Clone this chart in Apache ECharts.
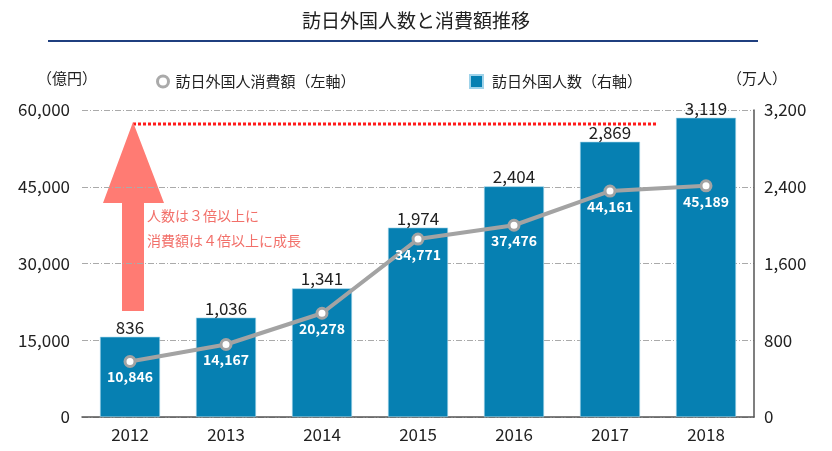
<!DOCTYPE html>
<html><head><meta charset="utf-8">
<script src="https://cdn.jsdelivr.net/npm/echarts@6/dist/echarts.min.js"></script>
<style>html,body{margin:0;padding:0;background:#fff}#c{width:832px;height:451px}</style>
</head><body><div id="c"></div>
<script>
const years = ['2012','2013','2014','2015','2016','2017','2018'];
const visitors = [836,1036,1341,1974,2404,2869,3119];          // 万人 (right axis)
const spending = [10846,14167,20278,34771,37476,44161,45189];   // 億円 (left axis)
const leftTicks = [0,15000,30000,45000,60000];
const rightTicks = [0,800,1600,2400,3200];

const F = '"Noto Sans CJK JP", "Noto Sans", sans-serif';
const chart = echarts.init(document.getElementById('c'));
chart.setOption({
  animation:false,
  textStyle:{fontFamily:F},
  title:{text:'訪日外国人数と消費額推移',left:'center',top:6,textStyle:{fontSize:19,fontWeight:'normal',color:'#222',fontFamily:F}},
  legend:[
    {top:69,left:151,itemGap:0,itemWidth:11,itemHeight:11,textStyle:{fontSize:15,color:'#222',fontFamily:F,padding:[0,0,0,2]},
     data:[{name:'訪日外国人消費額（左軸）',icon:'circle',itemStyle:{color:'#fff',borderColor:'#aaa',borderWidth:3}}]},
    {top:69,left:464,itemGap:0,itemWidth:13,itemHeight:13,textStyle:{fontSize:15,color:'#222',fontFamily:F,padding:[0,0,0,4]},
     data:[{name:'訪日外国人数（右軸）',icon:'rect'}]}
  ],
  grid:{left:82,right:78,top:110,bottom:34,containLabel:false},
  xAxis:{type:'category',data:years,axisTick:{show:false},
    axisLine:{lineStyle:{color:'#555',width:1.5}},
    axisLabel:{fontSize:17,color:'#222',margin:9}},
  yAxis:[
    {type:'value',min:leftTicks[0],max:leftTicks[leftTicks.length-1],interval:15000,
     name:'（億円）',nameLocation:'end',nameGap:24,nameTextStyle:{fontSize:15,color:'#222',align:'center',padding:[0,0,0,-30]},
     axisLine:{show:false},axisTick:{show:false},
     axisLabel:{fontSize:17,color:'#222',margin:12,formatter:v=>v.toLocaleString('en-US')},
     splitLine:{lineStyle:{color:'#aaa',type:[6,2,1,2],width:1}}},
    {type:'value',min:rightTicks[0],max:rightTicks[rightTicks.length-1],interval:800,
     name:'（万人）',nameLocation:'end',nameGap:24,nameTextStyle:{fontSize:15,color:'#222',align:'center',padding:[0,0,0,6]},
     axisLine:{show:true,lineStyle:{color:'#555',width:1.5}},axisTick:{show:false},
     axisLabel:{fontSize:17,color:'#222',margin:10,formatter:v=>v.toLocaleString('en-US')},
     splitLine:{show:false}}
  ],
  series:[
    {name:'訪日外国人数（右軸）',type:'bar',yAxisIndex:1,data:visitors,barWidth:60,
     itemStyle:{color:'#0680b2',borderColor:'#9fd3ea',borderWidth:0.6},
     label:{show:true,position:'top',distance:1,fontSize:17,color:'#222',formatter:p=>p.value.toLocaleString('en-US')},
     z:2},
    {name:'訪日外国人消費額（左軸）',type:'line',yAxisIndex:0,data:spending,
     symbol:'circle',symbolSize:10,
     lineStyle:{color:'#a3a3a3',width:4},
     itemStyle:{color:'#fff',borderColor:'#a3a3a3',borderWidth:3},
     label:{show:true,position:'bottom',distance:2,fontSize:14,fontWeight:'bold',color:'#fff',formatter:p=>p.value.toLocaleString('en-US')},
     z:5}
  ],
  graphic:[
    {type:'rect',shape:{x:48,y:40,width:710,height:2},style:{fill:'#1f3f7f'}},
    {type:'line',shape:{x1:133,y1:124,x2:656,y2:124},style:{stroke:'#ff1a1a',lineWidth:3,lineDash:[3,2]}},
    {type:'polygon',shape:{points:[[133,122],[164,203],[144,203],[144,311],[122,311],[122,203],[103,203]]},style:{fill:'#ff7b73'}},
    {type:'text',left:147,top:209,style:{text:'人数は３倍以上に',fontSize:14,fill:'#f2706a',fontFamily:F}},
    {type:'text',left:147,top:234,style:{text:'消費額は４倍以上に成長',fontSize:14,fill:'#f2706a',fontFamily:F}}
  ]
});
</script></body></html>
